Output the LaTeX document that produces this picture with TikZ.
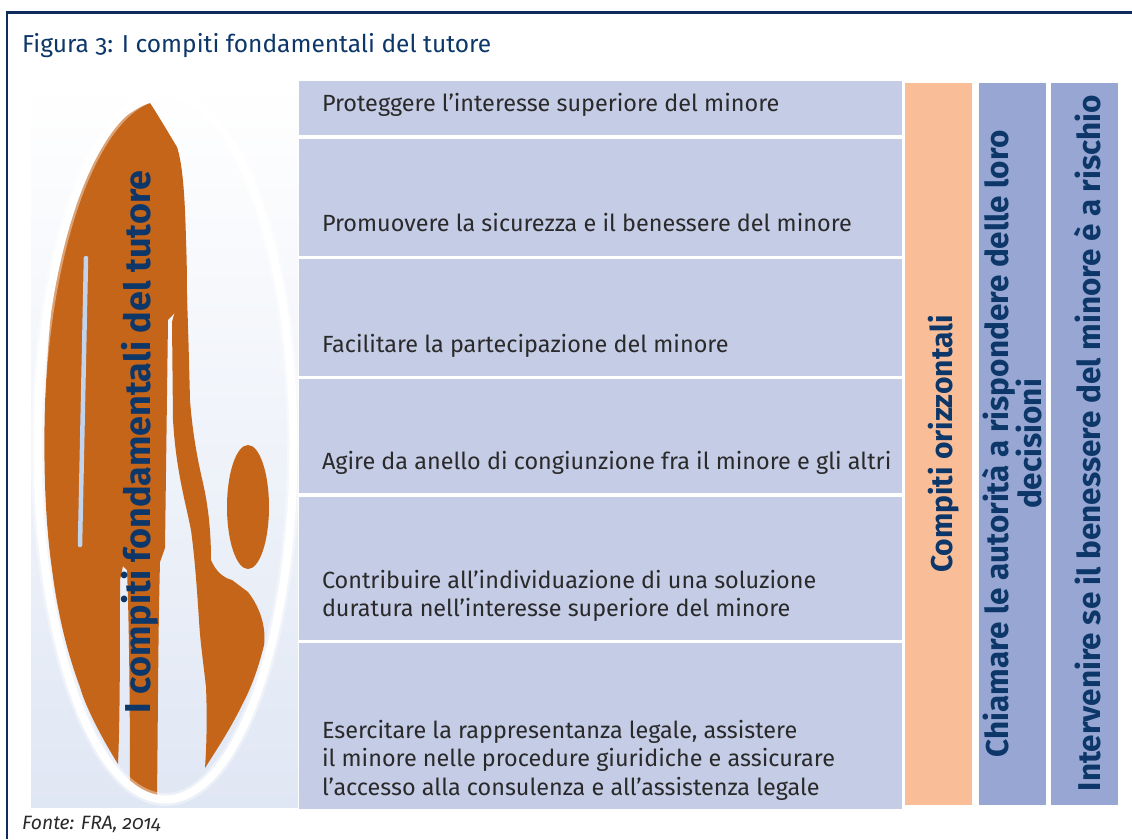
\documentclass[tikz,border=0pt]{standalone}
\usepackage{fontspec}
\setmainfont{Fira Sans}[Numbers=OldStyle]
\usetikzlibrary{positioning}
\definecolor{frameblue}{HTML}{0E2D5E}
\definecolor{navy}{HTML}{0D3769}
\definecolor{rowfill}{HTML}{C5CCE6}
\definecolor{orangecol}{HTML}{F9BD98}
\definecolor{bluecol}{HTML}{97A6D2}
\definecolor{rowtext}{HTML}{2A2A2A}
\definecolor{figorange}{HTML}{C4651A}
\definecolor{skyblue}{HTML}{C2D3EE}
\definecolor{skylow}{HTML}{E0E7F4}

\begin{document}
\begin{tikzpicture}[x=1pt,y=-1pt,
  taskbox/.style={fill=rowfill, inner sep=0, minimum width=603pt, anchor=north},
  tasktext/.style={anchor=south west, inner sep=0, text depth=0pt, align=left,
    text=rowtext, font=\fontsize{23.4}{28.5}\selectfont},
  colbox/.style={inner sep=0, minimum width=67pt, minimum height=722pt},
  coltext/.style={rotate=90, inner sep=0, text=navy, align=center,
    font=\fontsize{31.5}{27}\selectfont\bfseries},
  gap/.style={skyblue, line width=4.5pt, line cap=round}]
\useasboundingbox (0,0) rectangle (1132,839);
%%Frame
\draw[frameblue, line width=2.5pt] (7,839) -- (7,12.5) -- (1132,12.5);
\node[anchor=base west, inner sep=0, text=navy, font=\fontsize{24.5}{28}\selectfont]
  (title) at (22,52) {Figura 3: I compiti fondamentali del tutore};

%%Picture
\shade[top color=white, middle color=skyblue, bottom color=skylow] (31,81) rectangle (298,807);
\begin{scope}
\clip (165.5,446.5) ellipse [x radius=128, y radius=353];
%%adult: head, body, left arm, legs
\fill[figorange] (150,103) .. controls (156,112) and (168,132) .. (177,147)
  .. controls (183,165) and (185,200) .. (186,240)
  .. controls (187,265) and (187,285) .. (187,300)
  -- (168,320)
  -- (165,548) -- (160,562) .. controls (158,640) and (158,720) .. (157,795)
  -- (130,795) .. controls (130,700) and (129,620) .. (127,570)
  -- (123,566) -- (120,580) .. controls (120,650) and (120,720) .. (118,764)
  .. controls (100,735) and (85,705) .. (80,687)
  .. controls (70,660) and (58,620) .. (52,570)
  .. controls (46,530) and (43,470) .. (45,403)
  .. controls (47,360) and (50,310) .. (57,263)
  .. controls (60,240) and (63,225) .. (67,213)
  .. controls (75,190) and (90,150) .. (107,133)
  .. controls (120,120) and (135,108) .. (150,103) -- cycle;
\draw[gap] (86,258) -- (80,545);
%%adult: right arm
\fill[figorange] (186,270) .. controls (188,320) and (189,360) .. (190,400)
  .. controls (193,440) and (200,470) .. (203,483)
  .. controls (208,505) and (211,530) .. (211,560)
  .. controls (216,572) and (224,578) .. (232,580)
  -- (248,592) .. controls (262,610) and (266,630) .. (264,645)
  .. controls (258,670) and (250,690) .. (243,703)
  .. controls (230,730) and (215,752) .. (205,768)
  .. controls (207,740) and (207,710) .. (206,687)
  .. controls (203,660) and (200,640) .. (199,620)
  .. controls (197,590) and (195,560) .. (191,530)
  .. controls (185,500) and (176,470) .. (173,420)
  -- (172,322) -- cycle;
%%child
\fill[figorange] (248,507) ellipse [x radius=21, y radius=62];
\end{scope}
\draw[white, opacity=.4, line width=13pt] (165.5,446.5) ellipse [x radius=128, y radius=353];
\draw[white, line width=8pt] (165.5,446.5) ellipse [x radius=128, y radius=353];
\node[rotate=90, anchor=base, inner sep=0, text=navy, font=\fontsize{36}{36}\selectfont\bfseries]
  (tutore) at (150,442) {I compiti fondamentali del tutore};

%%Tasks
\node[taskbox, minimum height=54pt] (task1) at (600.5,81) {};
\node[taskbox, minimum height=117pt, below=3pt of task1] (task2) {};
\node[taskbox, minimum height=117pt, below=3pt of task2] (task3) {};
\node[taskbox, minimum height=114pt, below=3pt of task3] (task4) {};
\node[taskbox, minimum height=143pt, below=3pt of task4] (task5) {};
\node[taskbox, minimum height=166pt, below=3pt of task5] (task6) {};

\node[tasktext] (text1) at ([shift={(23,-24)}]task1.south west)
  {Proteggere l’interesse superiore del minore};
\node[tasktext] (text2) at ([shift={(23,-24)}]task2.south west)
  {Promuovere la sicurezza e il benessere del minore};
\node[tasktext] (text3) at ([shift={(23,-24)}]task3.south west)
  {Facilitare la partecipazione del minore};
\node[tasktext] (text4) at ([shift={(23,-24)}]task4.south west)
  {Agire da anello di congiunzione fra il minore e gli altri};
\node[tasktext] (text5) at ([shift={(23,-23)}]task5.south west)
  {Contribuire all’individuazione di una soluzione\\duratura nell’interesse superiore del minore};
\node[tasktext] (text6) at ([shift={(23,-14)}]task6.south west)
  {Esercitare la rappresentanza legale, assistere\\il minore nelle procedure giuridiche e assicurare\\l’accesso alla consulenza e all’assistenza legale};

%%Horizontal tasks
\node[colbox, fill=orangecol, anchor=north west] (horiz) at (905,83) {};
\node[colbox, fill=bluecol, right=6pt of horiz] (account) {};
\node[colbox, fill=bluecol, right=5pt of account] (risk) {};
\node[coltext, anchor=base, font=\fontsize{30}{27}\selectfont\bfseries] (horiztext) at (952,444) {Compiti orizzontali};
\node[coltext] (accounttext) at (1012,444) {Chiamare le autorità a rispondere delle loro\\decisioni};
\node[coltext, anchor=base] (risktext) at (1100,443) {Intervenire se il benessere del minore è a rischio};

%%Source
\node[anchor=base west, inner sep=0, text=rowtext, font=\fontsize{19.3}{22}\selectfont\itshape]
  (source) at (22,829) {Fonte: FRA, 2014};
\end{tikzpicture}
\end{document}
